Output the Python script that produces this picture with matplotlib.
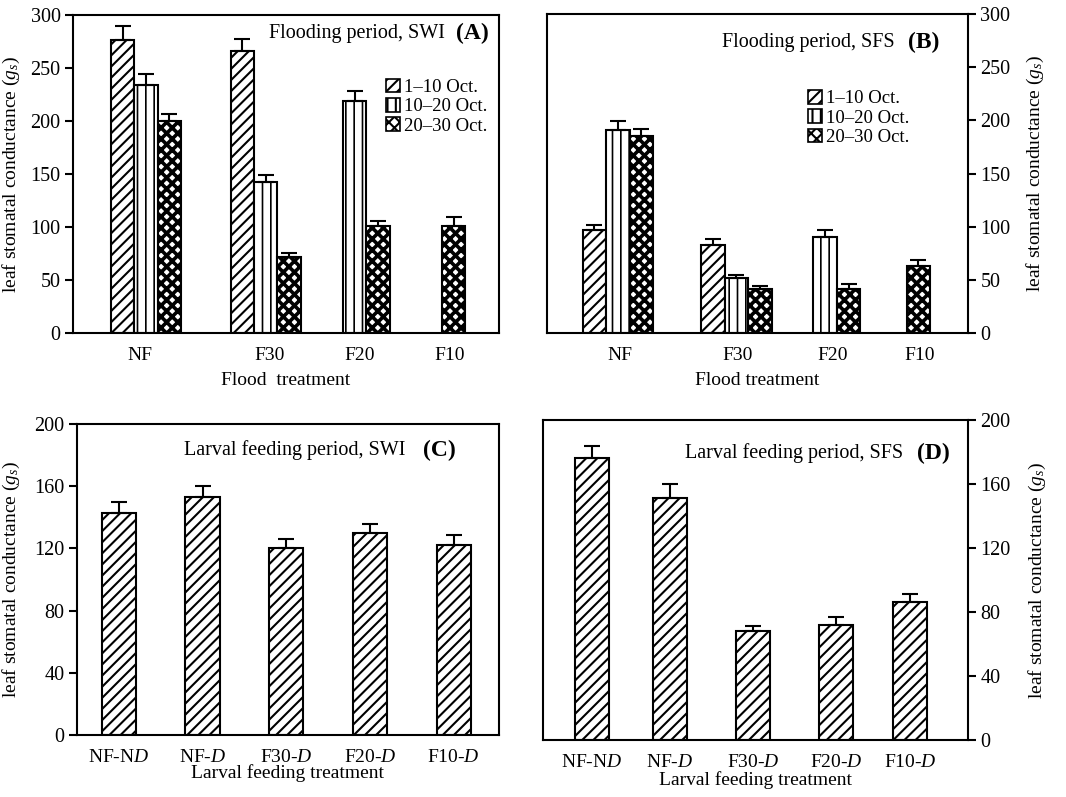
import matplotlib
matplotlib.use("Agg")
import matplotlib.pyplot as plt
from matplotlib.patches import Patch
import numpy as np

plt.rcParams['font.family'] = ['Liberation Serif', 'DejaVu Serif']
plt.rcParams['mathtext.fontset'] = 'custom'
plt.rcParams['mathtext.rm'] = 'Liberation Serif'
plt.rcParams['mathtext.it'] = 'Liberation Serif:italic'
plt.rcParams['hatch.linewidth'] = 1.5
plt.rcParams['axes.linewidth'] = 1.5

# ---- data ----
flood_groups = ['NF', 'F30', 'F20', 'F10']
periods = ['1\u201310 Oct.', '10\u201320 Oct.', '20\u201330 Oct.']

# panel A (SWI), nan = no bar
swi_flood = {
    '1\u201310 Oct.':  [276, 266, np.nan, np.nan],
    '10\u201320 Oct.': [234, 142, 219, np.nan],
    '20\u201330 Oct.': [200, 72, 101, 101],
}
swi_flood_err = {
    '1\u201310 Oct.':  [14, 11, 0, 0],
    '10\u201320 Oct.': [10, 7, 9, 0],
    '20\u201330 Oct.': [7, 3, 5, 8],
}
# panel B (SFS)
sfs_flood = {
    '1\u201310 Oct.':  [97, 83, np.nan, np.nan],
    '10\u201320 Oct.': [191, 52, 90, np.nan],
    '20\u201330 Oct.': [185, 41, 41, 63],
}
sfs_flood_err = {
    '1\u201310 Oct.':  [5, 5, 0, 0],
    '10\u201320 Oct.': [8, 3, 7, 0],
    '20\u201330 Oct.': [7, 3, 5, 6],
}

larval_groups = ['NF-N$\\it{D}$', 'NF-$\\it{D}$', 'F30-$\\it{D}$', 'F20-$\\it{D}$', 'F10-$\\it{D}$']
swi_larval = [143, 153, 120, 130, 122]
swi_larval_err = [7, 7, 6, 6, 7]
sfs_larval = [176, 151, 68, 72, 86]
sfs_larval_err = [8, 9, 3, 5, 5]

# ---- layout ----
hatches = ['///', '||', 'xxx']
hatch_lw = [1.5, 1.2, 2.6]
ylabel = 'leaf stomatal conductance ($g_s$)'
FS = 13.5

fig = plt.figure(figsize=(10.66, 7.97), dpi=100)
axA = fig.add_axes([0.0685, 0.5822, 0.3996, 0.399])
axB = fig.add_axes([0.513, 0.5822, 0.395, 0.4002])
axC = fig.add_axes([0.0722, 0.0778, 0.3959, 0.390])
axD = fig.add_axes([0.5094, 0.0715, 0.3987, 0.4015])


def set_hlw(patches, lw):
    # hatch line width per artist (mpl >= 3.10), fall back to rc value
    for p in patches:
        try:
            p.set_hatch_linewidth(lw)
        except AttributeError:
            pass


def flood_panel(ax, vals, errs, centers, tick_pos, xlim, title, tag, tpos, legpos):
    for i, p in enumerate(periods):
        x = np.array(centers) + (i - 1)
        v = np.array(vals[p], dtype=float)
        ok = ~np.isnan(v)
        with plt.rc_context({'hatch.linewidth': hatch_lw[i]}):
            bars = ax.bar(x[ok], v[ok], width=1.0, color='white', edgecolor='black',
                          linewidth=1.5, hatch=hatches[i], zorder=2)
        set_hlw(bars, hatch_lw[i])
        e = np.array(errs[p])[ok]
        ax.errorbar(x[ok], v[ok], yerr=[np.zeros_like(e), e], fmt='none',
                    ecolor='black', elinewidth=1.5, capsize=6, capthick=1.5, zorder=3)
    ax.set_xlim(*xlim)
    ax.set_ylim(0, 300)
    ax.set_yticks(range(0, 301, 50))
    ax.set_xticks(tick_pos)
    ax.set_xticklabels(flood_groups)
    handles = []
    for h, lw in zip(hatches, hatch_lw):
        with plt.rc_context({'hatch.linewidth': min(lw, 1.5)}):
            hp = Patch(facecolor='white', edgecolor='black', hatch=h, linewidth=1.2)
        set_hlw([hp], min(lw, 1.5))
        handles.append(hp)
    ax.legend(handles, periods, loc='upper left', bbox_to_anchor=legpos,
              frameon=False, fontsize=FS, handlelength=0.75, handleheight=0.75,
              handletextpad=0.2, labelspacing=0.1, borderpad=0, borderaxespad=0)
    ax.text(tpos[0], tpos[1], title, transform=ax.transAxes, ha='right',
            va='center', fontsize=14.5)
    ax.text(tpos[2], tpos[1], tag, transform=ax.transAxes, ha='left',
            va='center', fontsize=17, fontweight='bold')


def larval_panel(ax, vals, errs, pos, xlim, title, tag, tpos):
    with plt.rc_context({'hatch.linewidth': hatch_lw[0]}):
        bars = ax.bar(pos, vals, width=0.41, color='white', edgecolor='black',
                      linewidth=1.5, hatch=hatches[0], zorder=2)
    set_hlw(bars, hatch_lw[0])
    ax.errorbar(pos, vals, yerr=[np.zeros(len(errs)), errs], fmt='none',
                ecolor='black', elinewidth=1.5, capsize=6, capthick=1.5, zorder=3)
    ax.set_xlim(*xlim)
    ax.set_ylim(0, 200)
    ax.set_yticks(range(0, 201, 40))
    ax.set_xticks(pos)
    ax.set_xticklabels(larval_groups)
    ax.text(tpos[0], tpos[1], title, transform=ax.transAxes, ha='right',
            va='center', fontsize=14.5)
    ax.text(tpos[2], tpos[1], tag, transform=ax.transAxes, ha='left',
            va='center', fontsize=17, fontweight='bold')


flood_panel(axA, swi_flood, swi_flood_err, [3.13, 8.28, 12.1, 15.36],
            [2.88, 8.45, 12.3, 16.2], (0, 18.3),
            'Flooding period, SWI', '(A)', (0.873, 0.943, 0.90), (0.735, 0.80))
flood_panel(axB, sfs_flood, sfs_flood_err, [3.02, 8.06, 11.83, 14.79],
            [3.1, 8.09, 12.13, 15.83], (0, 17.9),
            'Flooding period, SFS', '(B)', (0.827, 0.912, 0.857), (0.62, 0.762))
larval_panel(axC, swi_larval, swi_larval_err, [0, 1, 2, 3, 4], (-0.5, 4.54),
             'Larval feeding period, SWI', '(C)', (0.777, 0.916, 0.82))
larval_panel(axD, sfs_larval, sfs_larval_err, [0.59, 1.53, 2.53, 3.53, 4.42], (0, 5.12),
             'Larval feeding period, SFS', '(D)', (0.847, 0.897, 0.88))

for ax in (axA, axB, axC, axD):
    ax.tick_params(axis='y', direction='out', length=6, width=1.5, labelsize=14.5, pad=3)
    ax.tick_params(axis='x', length=0, labelsize=14, pad=10)
    ax.set_ylabel(ylabel, fontsize=14)

for ax in (axB, axD):
    ax.yaxis.tick_right()
    ax.yaxis.set_label_position('right')

axA.yaxis.set_label_coords(-0.12, 0.5)
axC.yaxis.set_label_coords(-0.13, 0.5)
axB.yaxis.set_label_coords(1.135, 0.5)
axD.yaxis.set_label_coords(1.139, 0.5)

axA.set_xlabel('Flood  treatment', fontsize=14, labelpad=6)
axB.set_xlabel('Flood treatment', fontsize=14, labelpad=6)
axC.set_xlabel('Larval feeding treatment', fontsize=14, labelpad=-1)
axD.set_xlabel('Larval feeding treatment', fontsize=14, labelpad=0)

fig.savefig('out.png', dpi=100)
